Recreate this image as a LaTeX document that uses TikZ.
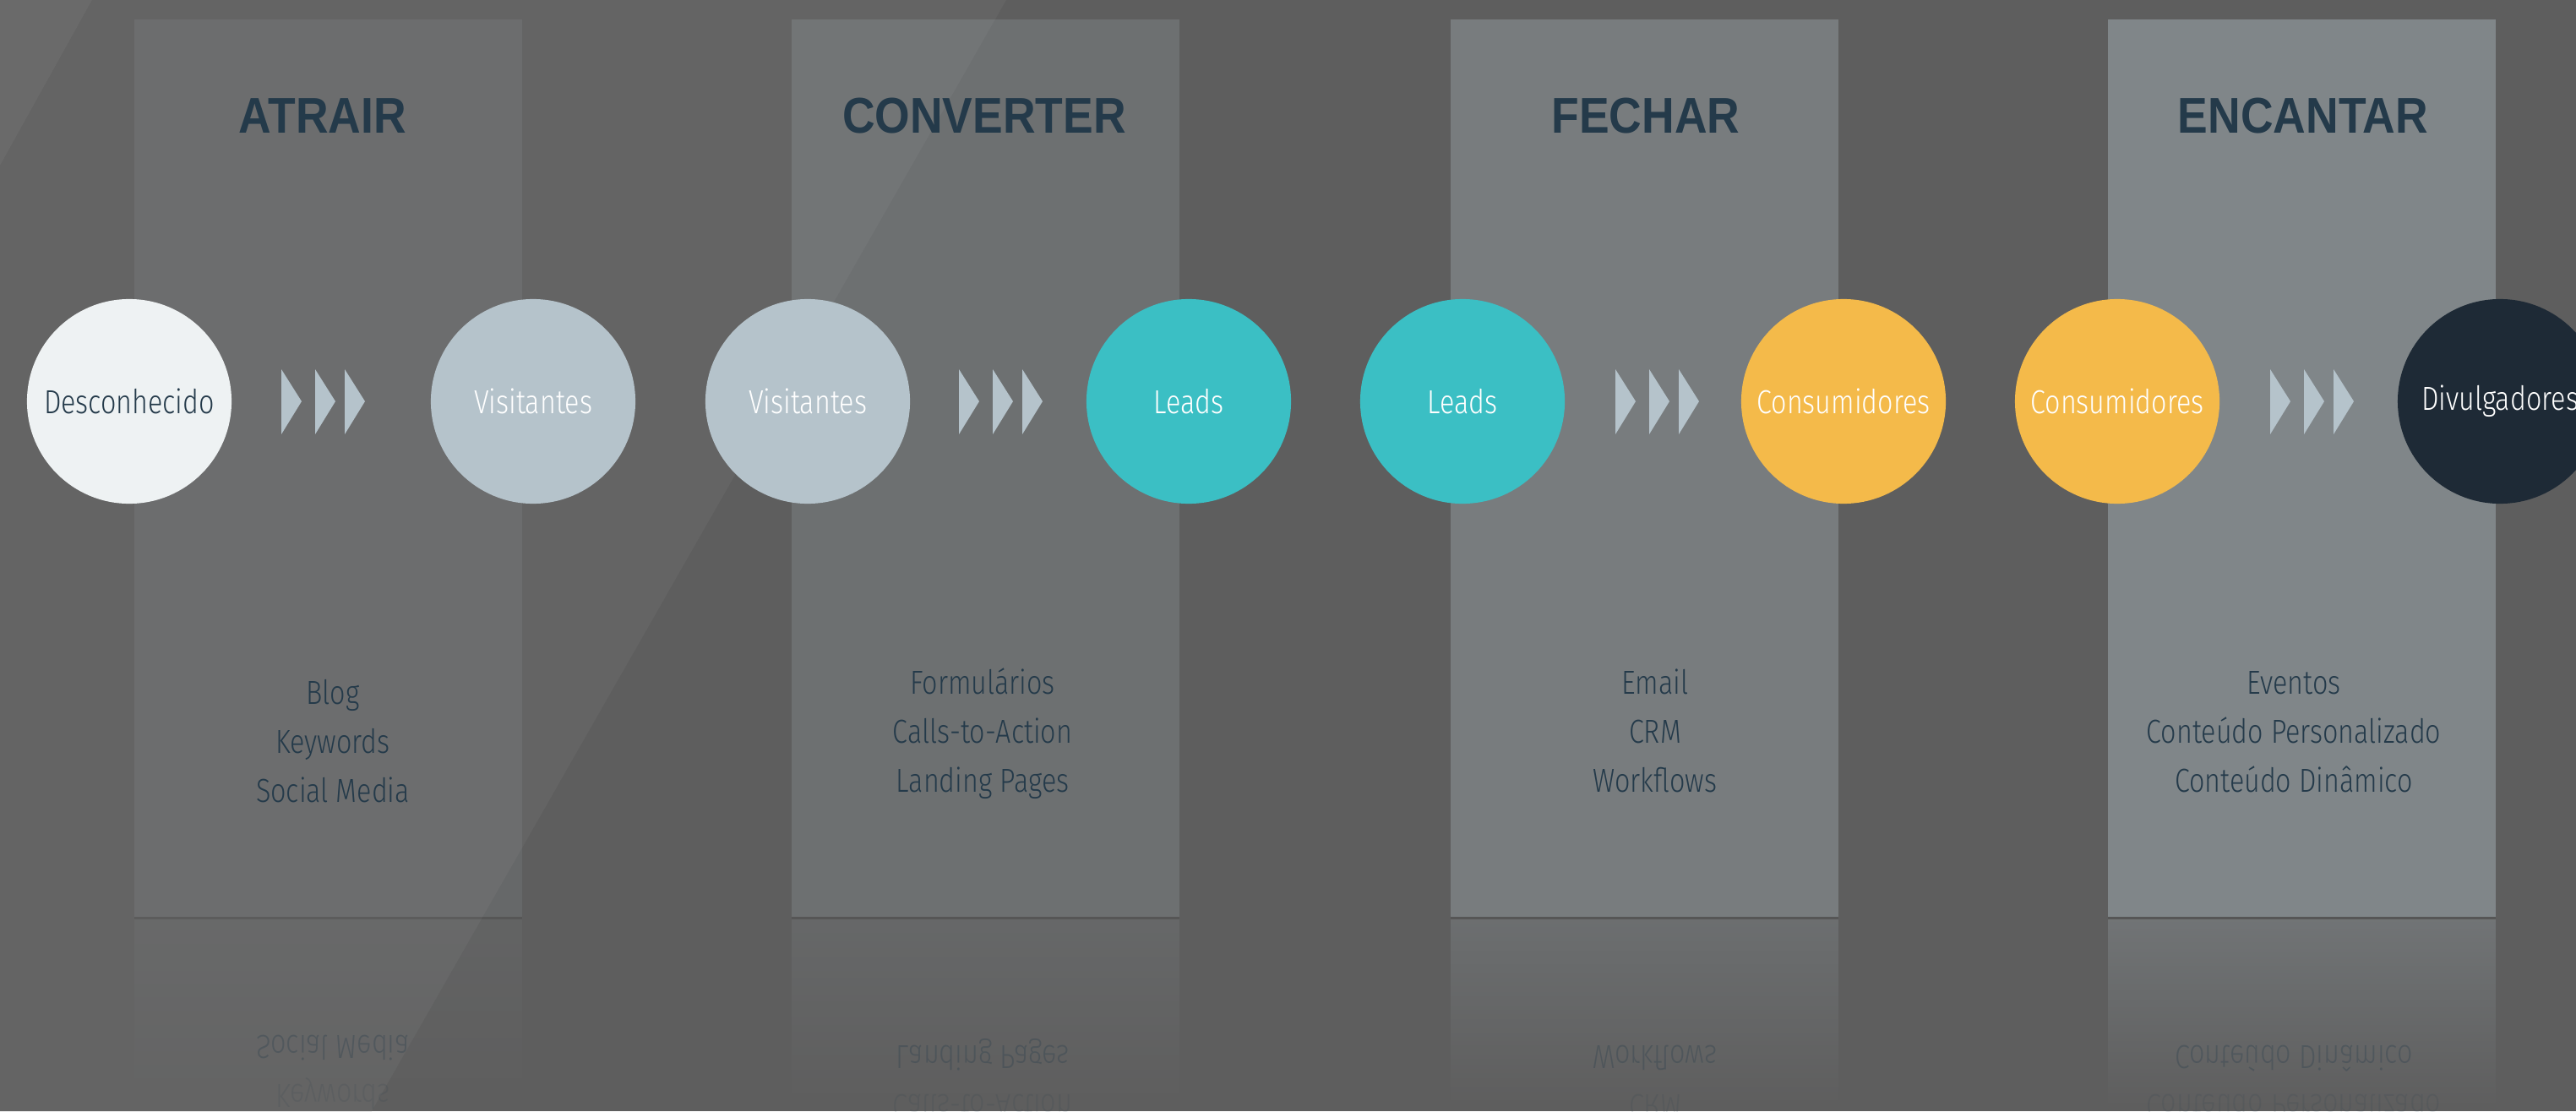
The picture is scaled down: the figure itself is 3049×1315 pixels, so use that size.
\documentclass[tikz,border=0pt]{standalone}
\usepackage{fontspec}
\usepackage{tikz}
\usetikzlibrary{fadings}
\newfontfamily\headfont{Liberation Sans}[FakeStretch=0.9]
\newfontfamily\bodyfont{Fira Sans Light}[FakeStretch=0.82]
\definecolor{bgdark}{HTML}{5E5E5E}
\definecolor{bgmid}{HTML}{646464}
\definecolor{bglight}{HTML}{6A6A6A}
\definecolor{veil}{HTML}{B5C3CB}
\definecolor{navy}{HTML}{243A4A}
\definecolor{stranger}{HTML}{EEF2F3}
\definecolor{visitor}{HTML}{B5C3CB}
\definecolor{leadcol}{HTML}{3BBFC4}
\definecolor{client}{HTML}{F4BA4A}
\definecolor{promoter}{HTML}{1E2A36}
\tikzfading[name=reflfade, top color=transparent!45, bottom color=transparent!100]

\begin{document}
\begin{tikzpicture}[x=0.01cm, y=-0.01cm,
  stage/.style={circle, minimum size=2.42cm, inner sep=0pt, text=white,
    font=\bodyfont\fontsize{11.2}{13}\selectfont},
  head/.style={anchor=base, text=navy, font=\headfont\bfseries\fontsize{16.9}{20}\selectfont},
  tool/.style={anchor=base, text=navy, font=\bodyfont\fontsize{11.2}{13}\selectfont},
  flipped/.style={tool, yscale=-1},
  chev/.style={fill=visitor}]
\useasboundingbox (0,0) rectangle (3049,1315);
\clip (0,0) rectangle (3049,1315);

% background with the light diagonal band
\fill[bgdark] (0,0) rectangle (3049,1315);
\fill[bgmid] (109,0) -- (1191,0) -- (440,1315) -- (0,1315) -- (0,196) -- cycle;
\fill[bglight] (0,0) -- (109,0) -- (0,196) -- cycle;

% columns and their reflections
\foreach \x/\a in {159/0.10, 937/0.18, 1717/0.30, 2495/0.40}{
  \fill[veil, fill opacity=\a] (\x,23) rectangle ({\x+459},1085);
  \fill[black, fill opacity=0.08] (\x,1085) rectangle ({\x+459},1088);
  \fill[veil, fill opacity=\a, path fading=reflfade] (\x,1088) rectangle ({\x+459},1315);
}

% headings
\node[head] (atrair) at (382,157) {ATRAIR};
\node[head] (converter) at (1165,157) {CONVERTER};
\node[head] (fechar) at (1948,157) {FECHAR};
\node[head] (encantar) at (2726,157) {ENCANTAR};

% stages
\node[stage, fill=stranger, text=navy] (desconhecido) at (153,475) {Desconhecido};
\node[stage, fill=visitor] (visitantes1) at (631,475) {Visitantes};
\node[stage, fill=visitor] (visitantes2) at (956,475) {Visitantes};
\node[stage, fill=leadcol] (leads1) at (1407,475) {Leads};
\node[stage, fill=leadcol] (leads2) at (1731,475) {Leads};
\node[stage, fill=client] (consumidores1) at (2182,475) {Consumidores};
\node[stage, fill=client] (consumidores2) at (2506,475) {Consumidores};
\node[stage, fill=promoter] (divulgadores) at (2959,475) {Divulgadores};

% chevrons between the stages
\foreach \m in {333,1135,1912,2687}
  \foreach \d in {0,40,75}
    \fill[chev] ({\m+\d},437) -- ({\m+24+\d},475) -- ({\m+\d},514) -- cycle;

% tools
\node[tool] (blog) at (394,833) {Blog};
\node[tool] (keywords) at (394,891) {Keywords};
\node[tool] (social) at (394,949) {Social Media};
\node[tool] (forms) at (1163,821) {Formulários};
\node[tool] (cta) at (1163,879) {Calls-to-Action};
\node[tool] (landing) at (1163,937) {Landing Pages};
\node[tool] (email) at (1959,821) {Email};
\node[tool] (crm) at (1959,879) {CRM};
\node[tool] (workflows) at (1959,937) {Workflows};
\node[tool] (eventos) at (2715,821) {Eventos};
\node[tool] (personal) at (2715,879) {Conteúdo Personalizado};
\node[tool] (dinamico) at (2715,937) {Conteúdo Dinâmico};

% mirrored tools
\node[flipped, text opacity=0.3] (socialr) at (394,1225) {Social Media};
\node[flipped, text opacity=0.12] (keywordsr) at (394,1283) {Keywords};
\node[flipped, text opacity=0.3] (landingr) at (1163,1237) {Landing Pages};
\node[flipped, text opacity=0.12] (ctar) at (1163,1295) {Calls-to-Action};
\node[flipped, text opacity=0.3] (workflowsr) at (1959,1237) {Workflows};
\node[flipped, text opacity=0.12] (crmr) at (1959,1295) {CRM};
\node[flipped, text opacity=0.3] (dinamicor) at (2715,1237) {Conteúdo Dinâmico};
\node[flipped, text opacity=0.12] (personalr) at (2715,1295) {Conteúdo Personalizado};
\end{tikzpicture}
\end{document}
